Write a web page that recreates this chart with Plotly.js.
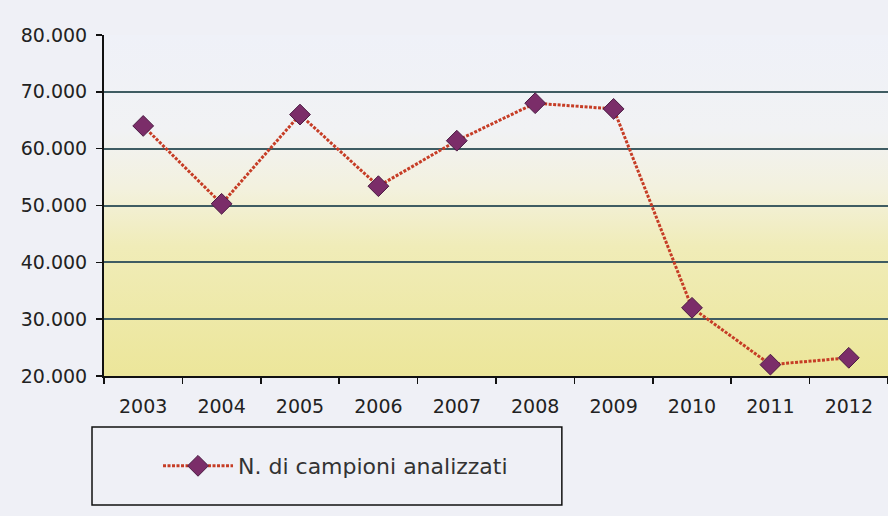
<!DOCTYPE html>
<html>
<head>
<meta charset="utf-8">
<script src="https://cdn.plot.ly/plotly-3.0.1.min.js"></script>
<style>html,body{margin:0;padding:0;background:#eff0f6;}#chart{width:888px;height:516px;}</style>
</head>
<body>
<div id="chart"></div>
<script>
var years = ['2003','2004','2005','2006','2007','2008','2009','2010','2011','2012'];
var campioni = [64000, 50300, 66000, 53400, 61400, 68000, 67000, 32000, 22000, 23200];
var seriesName = 'N. di campioni analizzati';
var yTicks = [20000, 30000, 40000, 50000, 60000, 70000, 80000];

var grad = '<svg xmlns="http://www.w3.org/2000/svg" width="100" height="100" preserveAspectRatio="none">' +
  '<defs><linearGradient id="g" x1="0" y1="0" x2="0" y2="1">' +
  '<stop offset="0" stop-color="#eff1f8"/>' +
  '<stop offset="0.28" stop-color="#f1f2f4"/>' +
  '<stop offset="0.45" stop-color="#f3f1de"/>' +
  '<stop offset="0.62" stop-color="#f0ecb8"/>' +
  '<stop offset="1" stop-color="#ece69a"/>' +
  '</linearGradient></defs><rect width="100" height="100" fill="url(#g)"/></svg>';
var gradUri = 'data:image/svg+xml;charset=utf-8,' + encodeURIComponent(grad);

var trace = {
  x: years, y: campioni, name: seriesName, type: 'scatter', mode: 'lines+markers',
  line: {color: '#c63d26', width: 3, dash: '3px,1.5px'},
  marker: {symbol: 'diamond', size: 16, color: '#7b2d69', line: {color: '#4a1a42', width: 1}}
};

var layout = {
  width: 888, height: 516,
  margin: {l: 104, r: 0, t: 35, b: 140},
  paper_bgcolor: '#eff0f6',
  plot_bgcolor: 'rgba(0,0,0,0)',
  separators: ',.',
  font: {family: 'DejaVu Sans, Arial, sans-serif', color: '#222'},
  showlegend: true,
  legend: {x: 0.0689, y: -0.264, xanchor: 'left', yanchor: 'middle', bgcolor: 'rgba(0,0,0,0)',
           itemwidth: 70,
           font: {size: 22, color: '#333', family: 'DejaVu Sans, Arial, sans-serif'}},
  xaxis: {type: 'category', range: [-0.5, 9.5], tickson: 'boundaries', ticks: 'outside', ticklen: 6, tickwidth: 1.5,
          tickcolor: '#111', showline: true, linecolor: '#111', linewidth: 2, showgrid: false,
          tickfont: {size: 19, color: '#222'}, ticklabelstandoff: 12, fixedrange: true},
  yaxis: {range: [20000, 80000], tickvals: yTicks, tickformat: ',d', ticks: 'outside', ticklen: 6,
          tickwidth: 1.5, tickcolor: '#111', showline: true, linecolor: '#111', linewidth: 2,
          showgrid: true, gridcolor: '#3f5c62', gridwidth: 2, zeroline: false,
          tickfont: {size: 19, color: '#222'}, ticklabelstandoff: 5, fixedrange: true},
  images: [{source: gradUri, xref: 'paper', yref: 'paper', x: 0, y: 1, sizex: 1, sizey: 1,
            sizing: 'stretch', xanchor: 'left', yanchor: 'top', layer: 'below'}],
  shapes: [{type: 'rect', xref: 'paper', yref: 'paper', x0: -0.0153, x1: 0.584, y0: -0.378, y1: -0.1496,
            line: {color: '#111', width: 1.5}, fillcolor: 'rgba(0,0,0,0)'}]
};

Plotly.newPlot('chart', [trace], layout, {displayModeBar: false, staticPlot: true});
</script>
</body>
</html>
